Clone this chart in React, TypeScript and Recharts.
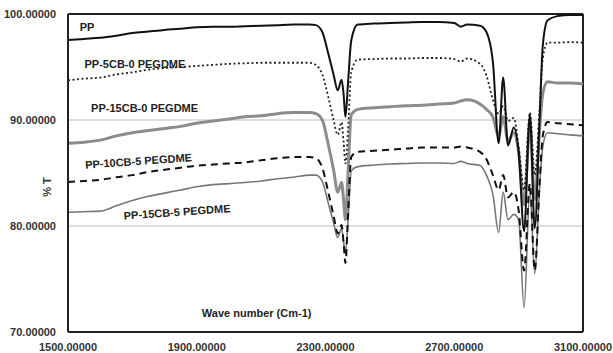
import React from 'react';
import { LineChart, Line, XAxis, YAxis, CartesianGrid, ReferenceLine, ReferenceDot, Label } from 'recharts';

const wavenumbers = [1500,1550,1600,1650,1700,1750,1800,1850,1900,1950,2000,2050,2100,2150,2200,2250,2270,2290,2310,2325,2338,2350,2356,2362,2370,2380,2400,2450,2500,2550,2600,2650,2700,2720,2740,2780,2800,2820,2838,2852,2867,2885,2900,2917,2935,2950,2965,2975,2990,3020,3060,3100];

const pp = [97.55,97.65,97.75,97.95,98.2,98.35,98.5,98.6,98.75,98.8,98.8,98.85,98.9,98.95,99.0,99.0,98.95,98.3,96.1,94.3,92.8,93.8,92.5,90.3,93.5,97.5,99.0,99.1,99.15,99.2,99.25,99.25,99.15,98.8,99.0,98.9,98.3,95.5,87.8,94.0,87.6,89.3,87.0,79.5,90.5,79.8,90.0,97.0,99.4,99.8,99.9,99.9];
const pp5cb0 = [93.75,93.9,94.0,94.3,94.5,94.75,94.9,95.0,95.1,95.2,95.3,95.35,95.4,95.4,95.4,95.4,95.2,94.3,92.0,90.0,88.6,89.8,88.0,85.9,89.0,94.5,95.7,95.75,95.8,95.8,95.85,95.85,95.75,95.5,95.8,95.3,94.2,91.9,90.6,91.3,89.9,90.2,87.5,83.4,90.7,84.8,91.0,95.8,97.3,97.3,97.35,97.3];
const pp15cb0 = [87.8,87.9,88.1,88.5,88.8,89.0,89.2,89.4,89.7,89.9,90.1,90.3,90.4,90.6,90.7,90.7,90.6,90.0,87.5,85.3,83.2,84.1,82.5,80.6,85.0,90.5,91.0,91.15,91.25,91.35,91.4,91.5,91.6,91.8,91.9,91.5,91.0,90.3,88.5,90.3,88.0,88.8,87.0,82.0,89.5,82.5,89.0,92.5,93.6,93.5,93.5,93.4];
const pp10cb5 = [84.15,84.25,84.35,84.6,84.8,85.1,85.3,85.5,85.7,85.8,85.9,86.0,86.2,86.4,86.5,86.5,86.4,85.5,83.0,81.0,79.3,80.1,78.5,76.5,81.0,86.5,87.0,87.1,87.2,87.3,87.4,87.4,87.4,87.5,87.4,87.0,86.3,84.8,83.4,84.8,82.7,83.2,81.5,75.8,84.0,75.8,84.0,88.5,89.8,89.7,89.6,89.5];
const pp15cb5 = [81.3,81.35,81.4,81.9,82.4,82.8,83.1,83.4,83.7,83.9,84.0,84.1,84.25,84.45,84.6,84.8,84.8,84.2,82.0,80.3,78.9,79.8,78.5,77.5,80.5,85.2,85.6,85.75,85.85,85.9,85.95,85.95,85.9,86.1,85.9,85.7,84.8,83.0,79.4,83.2,80.6,81.1,80.6,72.3,83.4,75.5,83.5,87.5,88.8,88.7,88.6,88.5];

const xTicks = [1500, 1900, 2300, 2700, 3100];
const yTicks = [70, 80, 90, 100];

const annotations = [
  { text: 'PP', wn: 1559, v: 98.77, angle: 0 },
  { text: 'PP-5CB-0 PEGDME', wn: 1708, v: 95.28, angle: 0 },
  { text: 'PP-15CB-0 PEGDME', wn: 1738, v: 91.13, angle: 0 },
  { text: 'PP-10CB-5 PEGDME', wn: 1719, v: 86.13, angle: -4 },
  { text: 'PP-15CB-5 PEGDME', wn: 1839, v: 81.32, angle: -4 },
  { text: 'Wave number (Cm-1)', wn: 2086, v: 71.79, angle: 0 },
];

const data = wavenumbers.map((wn, i) => ({
  wn,
  pp: pp[i],
  pp5cb0: pp5cb0[i],
  pp15cb0: pp15cb0[i],
  pp10cb5: pp10cb5[i],
  pp15cb5: pp15cb5[i],
}));

const FONT = '"Liberation Sans", Arial, sans-serif';
const tickStyle = { fontFamily: FONT, fontSize: 11, fontWeight: 700, fill: '#333' };

const YLabel = (props: any) => {
  const vb = props.viewBox || { x: 0, y: 0, width: 0, height: 0 };
  const cx = vb.x + 39;
  const cy = vb.y + vb.height / 2 + 14;
  return (
    <text x={cx} y={cy} transform={`rotate(-90, ${cx}, ${cy})`} textAnchor="middle" dominantBaseline="central"
      style={{ fontFamily: FONT, fontSize: 11, fontWeight: 700, fill: '#333' }}>% T</text>
  );
};

export default function App() {
  return (
    <div style={{ position: 'absolute', left: 0, top: 0, background: '#fff' }}>
      <LineChart width={613} height={353} data={data} margin={{ top: 14, right: 30, left: 8, bottom: 0 }}>
        <CartesianGrid horizontal={true} vertical={false} stroke="#bdbdbd" strokeWidth={1} horizontalValues={[80, 90]} />
        <XAxis dataKey="wn" type="number" domain={[1500, 3100]} ticks={xTicks} tickFormatter={(v: number) => v.toFixed(5)}
          height={21} tickSize={0} tickMargin={11} tick={tickStyle} axisLine={{ stroke: '#222', strokeWidth: 2 }} interval={0} />
        <YAxis type="number" domain={[70, 100]} ticks={yTicks} tickFormatter={(v: number) => v.toFixed(5)}
          width={60} tickSize={0} tickMargin={12} tick={tickStyle} axisLine={{ stroke: '#222', strokeWidth: 2 }} interval={0}
          label={<Label content={YLabel} />} />
        <ReferenceLine y={100} stroke="#222" strokeWidth={2} />
        <ReferenceLine x={3100} stroke="#222" strokeWidth={2} />
        <Line dataKey="pp15cb0" type="monotone" stroke="#8c8c8c" strokeWidth={3} dot={false} isAnimationActive={false} />
        <Line dataKey="pp15cb5" type="monotone" stroke="#777" strokeWidth={1.6} dot={false} isAnimationActive={false} />
        <Line dataKey="pp10cb5" type="monotone" stroke="#111" strokeWidth={2} strokeDasharray="7 5" dot={false} isAnimationActive={false} />
        <Line dataKey="pp5cb0" type="monotone" stroke="#222" strokeWidth={1.8} strokeDasharray="2 2.5" dot={false} isAnimationActive={false} />
        <Line dataKey="pp" type="monotone" stroke="#111" strokeWidth={2} dot={false} isAnimationActive={false} />
        {annotations.map((a) => (
          <ReferenceDot key={a.text} x={a.wn} y={a.v} r={0} stroke="none" fill="none" ifOverflow="visible"
            label={{ value: a.text, position: 'center', angle: a.angle, style: { fontFamily: FONT, fontSize: 11, fontWeight: 700, fill: '#222' } }} />
        ))}
      </LineChart>
    </div>
  );
}
